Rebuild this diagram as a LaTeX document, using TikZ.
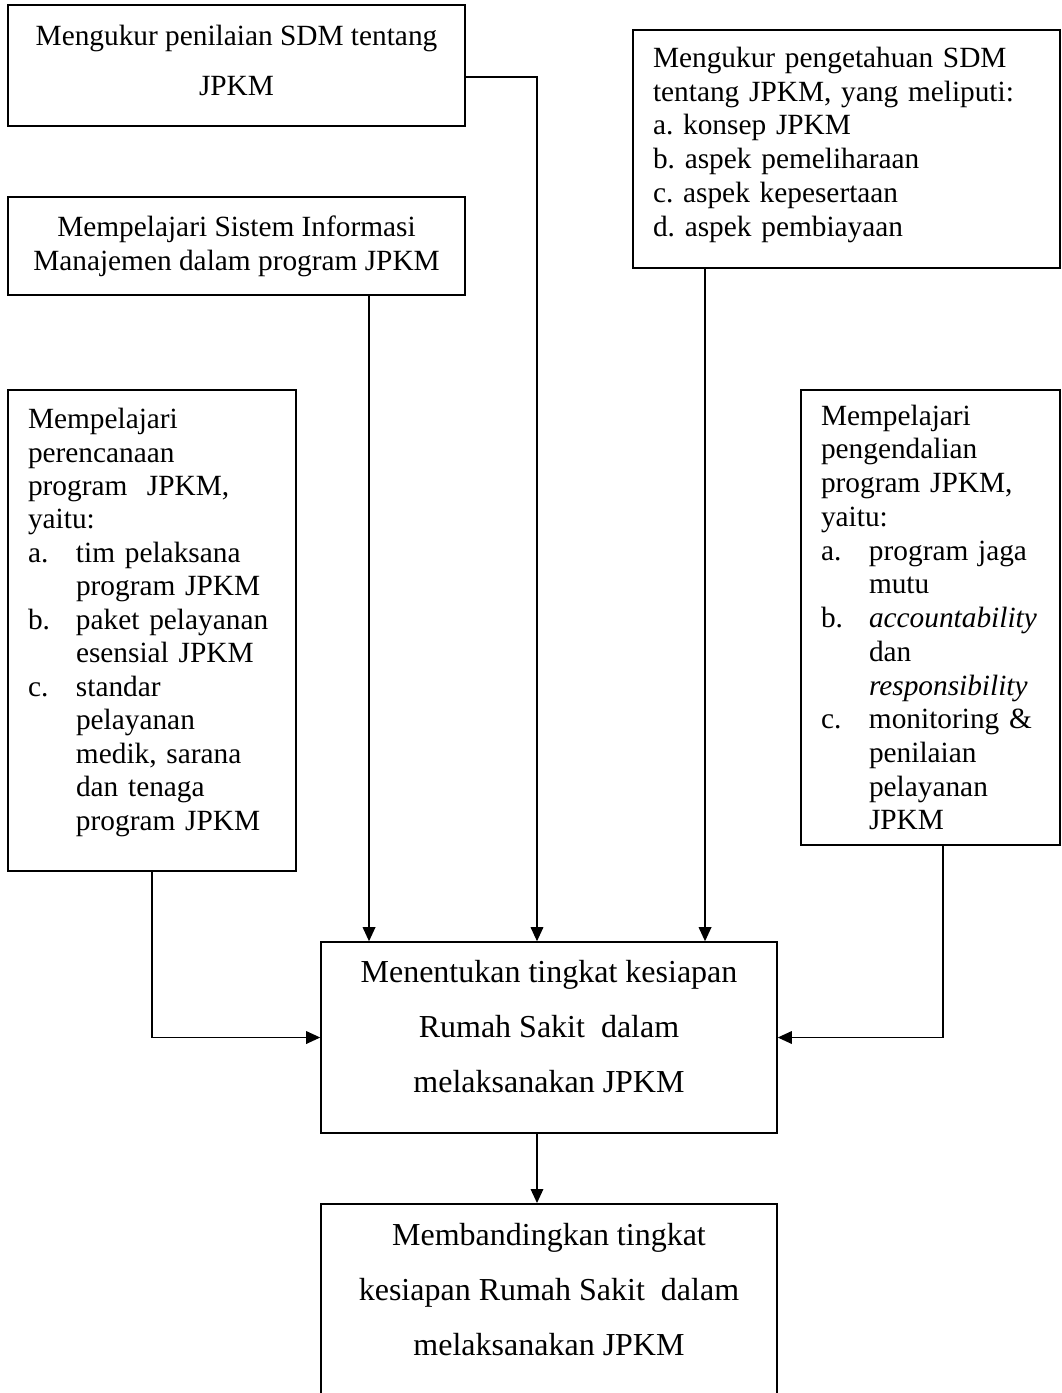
\documentclass[tikz,border=0pt]{standalone}
\usepackage{fontspec}
\setmainfont{Liberation Serif}
\usetikzlibrary{arrows.meta,positioning}
\newcommand{\itm}[1]{\makebox[36pt][l]{#1}}
\newcommand{\cnt}{\hspace*{36pt}}
\newcommand{\dpt}[1]{\rule[-#1]{0pt}{#1}}
\frenchspacing

\begin{document}
\begin{tikzpicture}[
  x=0.75pt, y=-0.75pt,
  box/.style={draw, line width=1.2pt, align=center, inner sep=0pt, font=\fontsize{22}{25.5}\selectfont},
  listbox/.style={draw, line width=1.2pt, align=left, inner xsep=15pt, inner ysep=0pt, font=\fontsize{22}{25.3}\selectfont},
  mainbox/.style={draw, line width=1.2pt, align=center, minimum width=342pt, font=\fontsize{24}{41.25}\selectfont},
  arr/.style={-{Triangle[length=10.5pt,width=9.5pt]}, line width=0.9pt}
]
  \useasboundingbox (0,0) rectangle (1061,1393);
  \node[box, minimum width=342.75pt, minimum height=90.75pt, font=\fontsize{22}{38}\selectfont] (nilai) at (236.5,65.5) {Mengukur penilaian SDM tentang\\JPKM\dpt{8pt}};
  \node[box, minimum width=342.75pt, minimum height=73.5pt] (sim) at (236.5,246) {Mempelajari Sistem Informasi\\Manajemen dalam program JPKM};
  \node[listbox, text width=290.25pt, minimum height=178.5pt] (tahu) at (846.5,149) {Mengukur pengetahuan SDM\\tentang JPKM, yang meliputi:\\a. konsep JPKM\\b. aspek pemeliharaan\\c. aspek kepesertaan\\d. aspek pembiayaan\dpt{11pt}};
  \node[listbox, text width=186pt, minimum height=360.75pt, font=\fontsize{22}{25.1}\selectfont] (rencana) at (152,630.5) {Mempelajari\\perencanaan\\program~ JPKM,\\yaitu:\\\itm{a.}tim pelaksana\\\cnt program JPKM\\\itm{b.}paket pelayanan\\\cnt esensial JPKM\\\itm{c.}standar\\\cnt pelayanan\\\cnt medik, sarana\\\cnt dan tenaga\\\cnt program JPKM\dpt{17pt}};
  \node[listbox, text width=164.25pt, minimum height=341.25pt] (kendali) at (930.5,617.5) {Mempelajari\\pengendalian\\program JPKM,\\yaitu:\\\itm{a.}program jaga\\\cnt mutu\\\itm{b.}\textit{accountability}\\\cnt dan\\\cnt \textit{responsibility}\\\itm{c.}monitoring \&\\\cnt penilaian\\\cnt pelayanan\\\cnt JPKM};
  \node[mainbox, minimum height=143.25pt] (tentukan) at (549,1037.5) {Menentukan tingkat kesiapan\\Rumah Sakit~ dalam\\melaksanakan JPKM\dpt{17pt}};
  \node[mainbox, anchor=north, inner ysep=14.6pt, text depth=150pt] (banding) at (549,1203) {Membandingkan tingkat\\kesiapan Rumah Sakit~ dalam\\melaksanakan JPKM};
  \draw[arr] ([yshift=-8.6pt]nilai.east) -| ([xshift=-9pt]tentukan.north);
  \draw[arr] ([xshift=99.4pt]sim.south) -- ([xshift=99.4pt]sim.south |- tentukan.north);
  \draw[arr] ([xshift=-106.1pt]tahu.south) -- ([xshift=-106.1pt]tahu.south |- tentukan.north);
  \draw[arr] (rencana.south) |- (tentukan.west);
  \draw[arr] ([xshift=9.4pt]kendali.south) |- (tentukan.east);
  \draw[arr] ([xshift=-9pt]tentukan.south) -- ([xshift=-9pt]tentukan.south |- banding.north);
\end{tikzpicture}
\end{document}
